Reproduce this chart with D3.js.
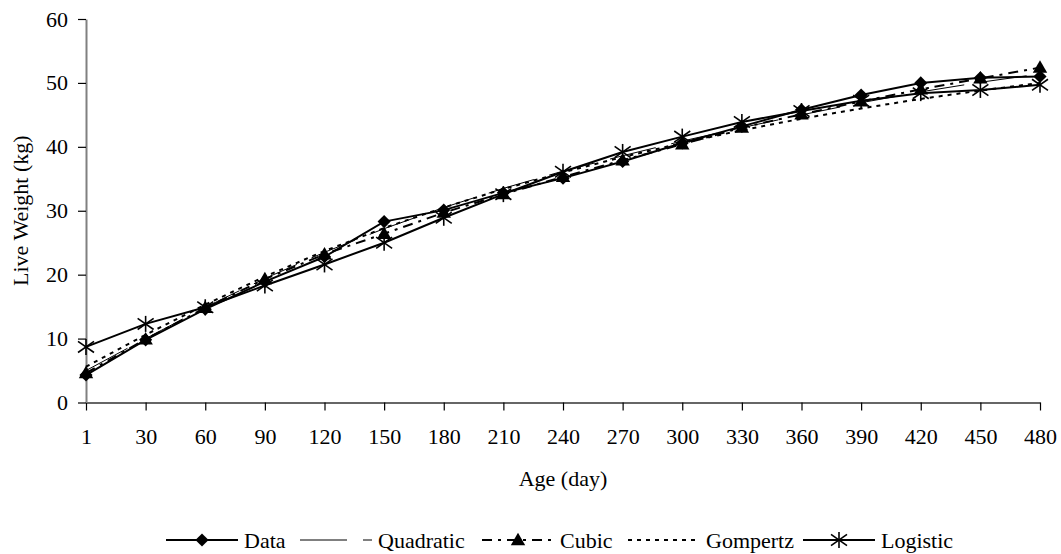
<!DOCTYPE html>
<html>
<head>
<meta charset="utf-8">
<script src="https://cdn.jsdelivr.net/npm/d3@7"></script>
<style>
  body { margin: 0; background: #fff; }
  svg text { font-family: "Liberation Serif", "Times New Roman", serif; fill: #000; }
</style>
</head>
<body>
<div id="chart"></div>
<script>
// width and height
var w = 1061;
var h = 554;

// data
var ages = [1, 30, 60, 90, 120, 150, 180, 210, 240, 270, 300, 330, 360, 390, 420, 450, 480];
var dataVals      = [4.3, 9.8, 14.6, 18.9, 22.8, 28.3, 30.1, 32.8, 35.1, 37.7, 40.6, 43.2, 45.8, 48.1, 50.0, 50.8, 51.0];
var quadraticVals = [5.0, 10.0, 14.9, 19.4, 23.5, 27.2, 30.5, 33.5, 36.2, 38.6, 40.9, 43.0, 45.0, 46.9, 48.6, 50.1, 51.4];
var cubicVals     = [4.6, 9.9, 14.8, 19.3, 23.2, 26.4, 29.7, 32.6, 35.3, 37.9, 40.4, 43.0, 45.1, 47.1, 49.0, 50.7, 52.4];
var gompertzVals  = [5.6, 10.6, 15.3, 19.7, 23.7, 27.3, 30.5, 33.4, 36.0, 38.4, 40.6, 42.6, 44.4, 46.0, 47.5, 48.8, 50.0];
var logisticVals  = [8.7, 12.3, 14.9, 18.3, 21.6, 25.0, 28.9, 32.6, 36.1, 39.2, 41.6, 43.9, 45.6, 47.2, 48.4, 48.9, 49.7];
var yTicks = [0, 10, 20, 30, 40, 50, 60];

var series = [
  { name: "Data",      values: dataVals,      width: 2, dash: null,         marker: "diamond" },
  { name: "Quadratic", values: quadraticVals, width: 1, dash: "47,16",      marker: null },
  { name: "Cubic",     values: cubicVals,     width: 2, dash: "10,6,3,6",   marker: "triangle" },
  { name: "Gompertz",  values: gompertzVals,  width: 2, dash: "4,5",        marker: null },
  { name: "Logistic",  values: logisticVals,  width: 2, dash: null,         marker: "asterisk" }
];

// scales
var xScale = d3.scalePoint()
  .domain(ages)
  .range([86, 1040]);

var yScale = d3.scaleLinear()
  .domain([0, 60])
  .range([402.5, 19]);

var svg = d3.select("#chart")
  .append("svg")
  .attr("width", w)
  .attr("height", h);

// x axis
var xAxis = d3.axisBottom(xScale).tickSize(8).tickPadding(18).tickSizeOuter(0);
var gx = svg.append("g")
  .attr("transform", "translate(0," + yScale(0) + ")")
  .call(xAxis);
gx.select(".domain").attr("stroke", "#333").attr("stroke-width", 1.5);
gx.selectAll(".tick line").attr("stroke", "#000").attr("stroke-width", 1.2);
gx.selectAll("text").attr("font-size", "22px");

// y axis
var yAxis = d3.axisLeft(yScale).tickValues(yTicks).tickSize(8).tickPadding(10).tickSizeOuter(0);
var gy = svg.append("g")
  .attr("transform", "translate(" + xScale(ages[0]) + ",0)")
  .call(yAxis);
gy.select(".domain").attr("stroke", "#808080").attr("stroke-width", 2);
gy.selectAll(".tick line").attr("stroke", "#000").attr("stroke-width", 1.2);
gy.selectAll("text").attr("font-size", "22px");

// axis titles
svg.append("text")
  .attr("x", (xScale.range()[0] + xScale.range()[1]) / 2)
  .attr("y", 486)
  .attr("text-anchor", "middle")
  .attr("font-size", "22px")
  .text("Age (day)");

svg.append("text")
  .attr("transform", "translate(28," + yScale(30) + ") rotate(-90)")
  .attr("text-anchor", "middle")
  .attr("font-size", "22px")
  .text("Live Weight (kg)");

// markers
function drawMarker(g, type, x, y) {
  if (type === "diamond") {
    g.append("path")
      .attr("d", d3.symbol().type(d3.symbolDiamond2).size(110)())
      .attr("transform", "translate(" + x + "," + y + ")")
      .attr("fill", "#000");
  } else if (type === "triangle") {
    g.append("path")
      .attr("d", d3.symbol().type(d3.symbolTriangle).size(90)())
      .attr("transform", "translate(" + x + "," + (y + 1) + ")")
      .attr("fill", "#000");
  } else if (type === "asterisk") {
    var s = 8;
    var a = g.append("g").attr("transform", "translate(" + x + "," + y + ")")
      .attr("stroke", "#000").attr("stroke-width", 1.6);
    a.append("line").attr("x1", 0).attr("y1", -s).attr("x2", 0).attr("y2", s);
    a.append("line").attr("x1", -s).attr("y1", -s * 0.7).attr("x2", s).attr("y2", s * 0.7);
    a.append("line").attr("x1", -s).attr("y1", s * 0.7).attr("x2", s).attr("y2", -s * 0.7);
  }
}

// lines
var line = d3.line()
  .x(function (d, i) { return xScale(ages[i]); })
  .y(function (d) { return yScale(d); });

var drawOrder = [3, 1, 2, 4, 0];
drawOrder.forEach(function (k) {
  var s = series[k];
  svg.append("path")
    .datum(s.values)
    .attr("d", line)
    .attr("fill", "none")
    .attr("stroke", "#000")
    .attr("stroke-width", s.width)
    .attr("stroke-dasharray", s.dash);
});
drawOrder.forEach(function (k) {
  var s = series[k];
  if (!s.marker) return;
  var g = svg.append("g");
  s.values.forEach(function (v, i) {
    drawMarker(g, s.marker, xScale(ages[i]), yScale(v));
  });
});

// legend
var legendY = 540;
var legendX = [166, 300, 482, 628, 803];
series.forEach(function (s, i) {
  var g = svg.append("g").attr("transform", "translate(" + legendX[i] + "," + legendY + ")");
  g.append("line")
    .attr("x1", 0).attr("y1", 0).attr("x2", 72).attr("y2", 0)
    .attr("stroke", "#000")
    .attr("stroke-width", s.width)
    .attr("stroke-dasharray", s.dash);
  if (s.marker) drawMarker(g, s.marker, 36, 0);
  g.append("text")
    .attr("x", 78)
    .attr("y", 8)
    .attr("font-size", "22px")
    .text(s.name);
});
</script>
</body>
</html>
